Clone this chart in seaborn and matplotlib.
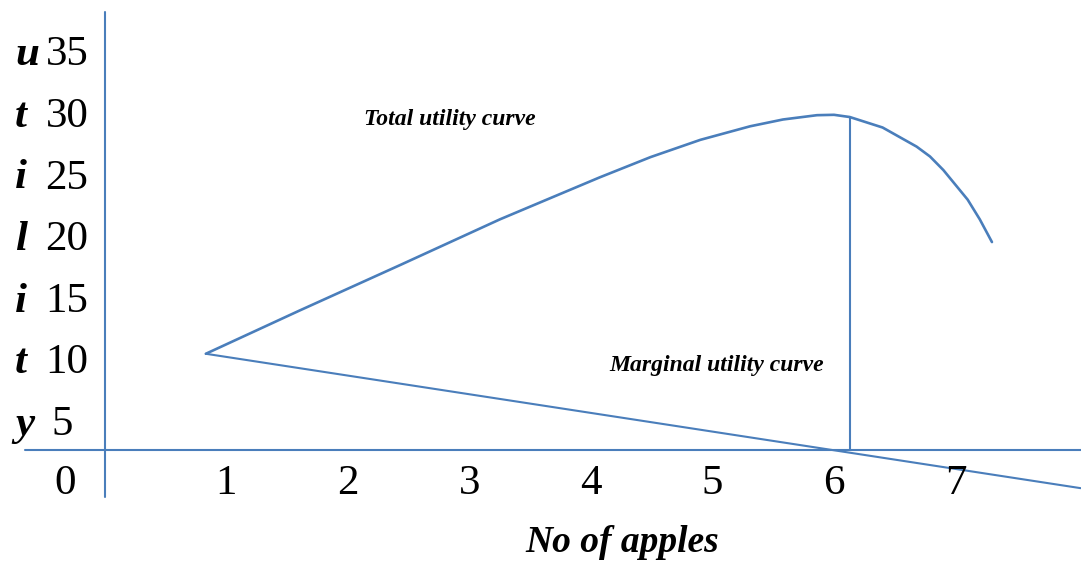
import numpy as np
import matplotlib
matplotlib.use("Agg")
import matplotlib.pyplot as plt
import seaborn as sns

# Values (apples on x, utility on y)
tu_apples = [0.83, 1.60, 2.43, 3.25, 3.72, 4.07, 4.49, 4.90, 5.31, 5.58, 5.86, 6.00,
             6.13, 6.40, 6.68, 6.79, 6.90, 7.10, 7.20, 7.30]
tu_utility = [10.4, 13.9, 17.6, 21.3, 23.25, 24.7, 26.35, 27.75, 28.85, 29.4, 29.75, 29.78,
              29.6, 28.75, 27.2, 26.4, 25.3, 22.9, 21.3, 19.46]

mu_apples = [0.83, 8.03]
mu_utility = [10.4, -0.5]

max_tu_apples = 6.13          # vertical drop line where total utility is highest
max_tu_value = 29.6

x_ticks = [1, 2, 3, 4, 5, 6, 7]
y_ticks = [35, 30, 25, 20, 15, 10, 5]
y_letters = ["u", "t", "i", "l", "i", "t", "y"]   # "utility" written down the axis

axis_base = 2.6               # the drawn x axis sits a little above the label zero

BLUE = "#4a7ebb"
SERIF = "Liberation Serif"

sns.set_style("white")
plt.rcParams["font.family"] = [SERIF, "DejaVu Serif"]
plt.rcParams["text.color"] = "black"

# pixel layout of the original figure
px_x0, px_per_apple = 105, 121.5
px_y0, px_per_unit = 482, 12.33
W, H = 1081, 561

fig = plt.figure(figsize=(W / 100, H / 100), dpi=100)
ax = fig.add_axes([0, 0, 1, 1])
ax.set_xlim(-px_x0 / px_per_apple, (W - px_x0) / px_per_apple)
ax.set_ylim((px_y0 - H) / px_per_unit, px_y0 / px_per_unit)
ax.axis("off")

# axes lines
ax.plot([-0.66, 8.03], [axis_base, axis_base], color=BLUE, lw=1.5)
ax.plot([0, 0], [-1.2, 38.1], color=BLUE, lw=1.5)

# curves
sns.lineplot(x=tu_apples, y=tu_utility, ax=ax, color=BLUE, lw=1.9,
             estimator=None, sort=False, solid_joinstyle="round")
sns.lineplot(x=mu_apples, y=mu_utility, ax=ax, color=BLUE, lw=1.5,
             estimator=None, sort=False)
ax.plot([max_tu_apples, max_tu_apples], [axis_base, max_tu_value], color=BLUE, lw=1.5)

# y labels: bold italic letter + plain number
for letter, val in zip(y_letters, y_ticks):
    ax.text(-0.74, val, letter, fontsize=31, fontweight="bold", fontstyle="italic",
            ha="left", va="center_baseline", color="black")
    ax.text(-0.49 if val != 5 else -0.44, val, str(val), fontsize=31,
            ha="left", va="center_baseline", color="black")

# x labels
ax.text(-0.33, 0.24, "0", fontsize=31, ha="center", va="center_baseline", color="black")
for t in x_ticks:
    ax.text(t, 0.24, str(t), fontsize=31, ha="center", va="center_baseline", color="black")

ax.text(2.84, 29.6, "Total utility curve", fontsize=17, fontweight="bold",
        fontstyle="italic", ha="center", va="center_baseline", color="black")
ax.text(5.03, 9.65, "Marginal utility curve", fontsize=17, fontweight="bold",
        fontstyle="italic", ha="center", va="center_baseline", color="black")
ax.text(4.26, -4.55, "No of apples", fontsize=27, fontweight="bold",
        fontstyle="italic", ha="center", va="center_baseline", color="black")

fig.savefig("out.png", dpi=100)
